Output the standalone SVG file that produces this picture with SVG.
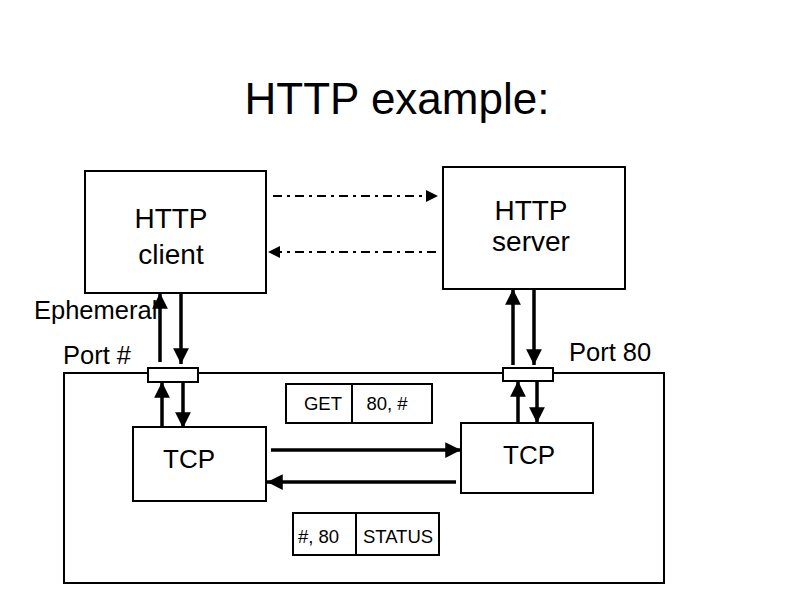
<svg xmlns="http://www.w3.org/2000/svg" width="794" height="595" viewBox="0 0 794 595">
<defs>
<style>
.box{fill:#fff;stroke:#000;stroke-width:2}
.t{font-family:"Liberation Sans",Arial,sans-serif;fill:#000}
.thick{stroke:#000;stroke-width:3.5;fill:none}
.dd{stroke:#000;stroke-width:2;fill:none;stroke-dasharray:9,5,3,5}
</style>
<marker id="ah" viewBox="0 0 10 10" refX="10" refY="5" markerWidth="4.5" markerHeight="4.5" orient="auto" markerUnits="strokeWidth"><path d="M0,0 L10,5 L0,10 z" fill="#000"/></marker>
<marker id="ahs" viewBox="0 0 10 10" refX="10" refY="5" markerWidth="6" markerHeight="6" orient="auto" markerUnits="strokeWidth"><path d="M0,0 L10,5 L0,10 z" fill="#000"/></marker>
</defs>
<rect width="794" height="595" fill="#fff"/>
<text class="t" x="397" y="114" font-size="44" text-anchor="middle">HTTP example:</text>

<g id="network">
<rect x="64" y="373" width="600" height="210" fill="none" stroke="#000" stroke-width="2"/>
</g>

<g id="http-client">
<rect class="box" x="85" y="171" width="181" height="122"/>
<text class="t" x="171" y="228" font-size="28" text-anchor="middle">HTTP</text>
<text class="t" x="171" y="264" font-size="28" text-anchor="middle">client</text>
</g>

<g id="http-server">
<rect class="box" x="443" y="167" width="182" height="122"/>
<text class="t" x="531" y="220" font-size="28" text-anchor="middle">HTTP</text>
<text class="t" x="531" y="251" font-size="28" text-anchor="middle">server</text>
</g>

<g id="tcp-client">
<rect class="box" x="133" y="427" width="133" height="74"/>
<text class="t" x="189" y="468" font-size="26" text-anchor="middle">TCP</text>
</g>

<g id="tcp-server">
<rect class="box" x="461" y="423" width="132" height="70"/>
<text class="t" x="529" y="464" font-size="26" text-anchor="middle">TCP</text>
</g>

<g id="labels">
<text class="t" x="34" y="319" font-size="25.5">Ephemeral</text>
<text class="t" x="63" y="364" font-size="25.5">Port #</text>
<text class="t" x="569" y="361" font-size="25.5">Port 80</text>
</g>

<g id="get-packet">
<rect class="box" x="286" y="384" width="146" height="39"/>
<line x1="352" y1="384" x2="352" y2="423" stroke="#000" stroke-width="2"/>
<text class="t" x="323" y="410" font-size="18.5" text-anchor="middle">GET</text>
<text class="t" x="387" y="410" font-size="18.5" text-anchor="middle">80, #</text>
</g>

<g id="status-packet">
<rect class="box" x="293" y="513" width="146" height="42"/>
<line x1="356" y1="513" x2="356" y2="555" stroke="#000" stroke-width="2"/>
<text class="t" x="298" y="543" font-size="18.5">#, 80</text>
<text class="t" x="398" y="543" font-size="18.5" text-anchor="middle">STATUS</text>
</g>

<g id="connectors">
<line class="dd" x1="273" y1="196" x2="438" y2="196" marker-end="url(#ahs)"/>
<line class="dd" x1="436" y1="252" x2="268" y2="252" marker-end="url(#ahs)"/>

<line class="thick" x1="160" y1="362" x2="160" y2="293" marker-end="url(#ah)"/>
<line class="thick" x1="181" y1="293" x2="181" y2="364" marker-end="url(#ah)"/>
<line class="thick" x1="162" y1="428" x2="162" y2="382" marker-end="url(#ah)"/>
<line class="thick" x1="183" y1="382" x2="183" y2="428" marker-end="url(#ah)"/>

<line class="thick" x1="513" y1="365" x2="513" y2="289" marker-end="url(#ah)"/>
<line class="thick" x1="534" y1="289" x2="534" y2="365" marker-end="url(#ah)"/>
<line class="thick" x1="518" y1="423" x2="518" y2="381" marker-end="url(#ah)"/>
<line class="thick" x1="537" y1="381" x2="537" y2="423" marker-end="url(#ah)"/>

<line class="thick" x1="271" y1="450" x2="461" y2="450" marker-end="url(#ah)"/>
<line class="thick" x1="456" y1="482" x2="267" y2="482" marker-end="url(#ah)"/>
</g>

<g id="ports">
<rect class="box" x="148" y="368" width="50" height="14"/>
<rect class="box" x="503" y="368" width="50" height="13"/>
</g>
</svg>
